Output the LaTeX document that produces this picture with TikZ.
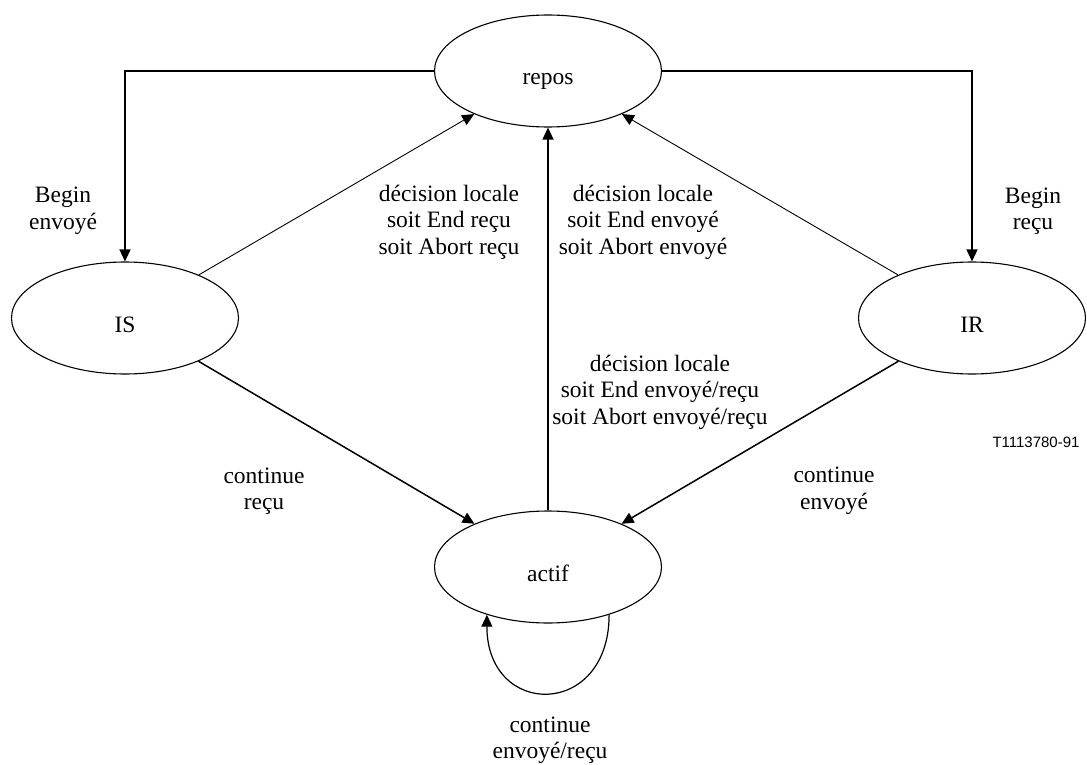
\documentclass[tikz,border=0pt]{standalone}
\usepackage{fontspec}
\setmainfont{Liberation Serif}
\newfontfamily\refsans{Liberation Sans}
\usetikzlibrary{shapes.geometric,arrows.meta}
\begin{document}
\begin{tikzpicture}[x=1pt,y=-1pt,
  every node/.style={font=\fontsize{23.5}{26.5}\selectfont},
  state/.style={ellipse,draw,line width=1.1pt,minimum width=227pt,minimum height=112pt,
                inner sep=0pt,text height=28pt,text depth=0pt},
  lbl/.style={align=center,inner sep=0pt},
  arr/.style={-{Triangle[length=12pt,width=11pt]}},
]
\useasboundingbox (0,0) rectangle (1087,765);

% states
\node[state] (repos) at (548,71)  {repos};
\node[state] (IS)    at (125,318) {IS};
\node[state] (IR)    at (972,318) {IR};
\node[state] (actif) at (548,567) {actif};

% transitions
\draw[arr,line width=1.2pt] (repos.west) -| (IS.north);
\draw[arr,line width=1.2pt] (repos.east) -| (IR.north);
\draw[arr,line width=0.9pt] (IS) -- (repos);
\draw[arr,line width=0.9pt] (IR) -- (repos);
\draw[arr,line width=1.1pt] (actif) -- (repos);
\draw[arr,line width=1.5pt] (IS) -- (actif);
\draw[arr,line width=1.5pt] (IR) -- (actif);
\draw[arr,line width=1.2pt] (actif.-38) .. controls +(0,104) and +(0,104) .. (actif.-142);

% transition labels
\node[lbl] (lbeginS) at (63,211)  {Begin\\envoyé};
\node[lbl] (lbeginR) at (1033,211) {Begin\\reçu};
\node[lbl] (ldecS)   at (449,222) {décision locale\\soit End reçu\\soit Abort reçu};
\node[lbl] (ldecR)   at (643,222) {décision locale\\soit End envoyé\\soit Abort envoyé};
\node[lbl] (ldecA)   at (660,392) {décision locale\\soit End envoyé/reçu\\soit Abort envoyé/reçu};
\node[lbl] (lcontS)  at (264,491) {continue\\reçu};
\node[lbl] (lcontR)  at (834,491) {continue\\envoyé};
\node[lbl] (lcontA)  at (550,740) {continue\\envoyé/reçu};

% figure reference
\node[inner sep=0pt,font=\refsans\fontsize{15}{18}\selectfont] (ref) at (1036,442) {T1113780-91};
\end{tikzpicture}
\end{document}
